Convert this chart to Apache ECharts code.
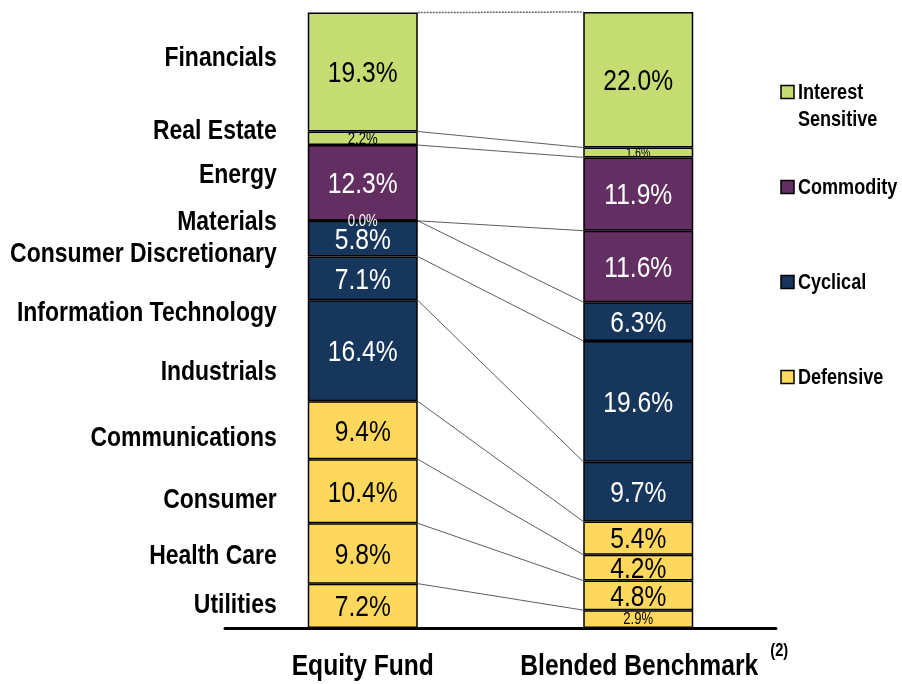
<!DOCTYPE html>
<html>
<head>
<meta charset="utf-8">
<script src="https://cdn.jsdelivr.net/npm/echarts@6/dist/echarts.min.js"></script>
<style>html,body{margin:0;padding:0;background:#fff;}#chart{width:902px;height:684px;}</style>
</head>
<body>
<div id="chart"></div>
<script>
// ---- data ----
const categories = ['Equity Fund', 'Blended Benchmark'];
const sectors = ['Utilities', 'Health Care', 'Consumer', 'Communications', 'Industrials',
  'Information Technology', 'Consumer Discretionary', 'Materials', 'Energy', 'Real Estate', 'Financials'];
const sectorGroups = ['Defensive', 'Defensive', 'Defensive', 'Defensive', 'Cyclical',
  'Cyclical', 'Cyclical', 'Commodity', 'Commodity', 'Interest Sensitive', 'Interest Sensitive'];
const fundValues = [7.2, 9.8, 10.4, 9.4, 16.4, 7.1, 5.8, 0.0, 12.3, 2.2, 19.3];
const benchmarkValues = [2.9, 4.8, 4.2, 5.4, 9.7, 19.6, 6.3, 11.6, 11.9, 1.6, 22.0];
const legendGroups = ['Interest Sensitive', 'Commodity', 'Cyclical', 'Defensive'];
const benchmarkNote = '(2)';

// ---- styles ----
const FONT = "'Liberation Sans', Arial, sans-serif";
const NARROW = 0.82; // horizontal squeeze to emulate a condensed face
const groupColors = {
  'Interest Sensitive': '#c5dc72',
  'Commodity': '#632e62',
  'Cyclical': '#17365c',
  'Defensive': '#fdd85c'
};
const groupTextColors = {
  'Interest Sensitive': '#000',
  'Commodity': '#fff',
  'Cyclical': '#fff',
  'Defensive': '#000'
};
// layout nudges (px) for the left-hand sector labels relative to the fund segment centres
const labelNudge = [-1, 3, 9, 8, 21, 35, 16, 1, -8, -7, -14];
const legendY = [92, 187, 282, 377];
const BAR_W = 110;

function labelSize(v) {
  if (v > 0 && v < 2) return 13;
  if (v < 3.5) return 16;
  return 30;
}

// cumulative tops
const fundTops = [], benchTops = [];
let cf = 0, cb = 0;
for (let i = 0; i < sectors.length; i++) {
  cf += fundValues[i]; cb += benchmarkValues[i];
  fundTops.push(+cf.toFixed(2)); benchTops.push(+cb.toFixed(2));
}

// label items: [categoryIndex, midValue, value, sectorIndex]
const labelItems = [];
sectors.forEach((s, i) => {
  labelItems.push([0, fundTops[i] - fundValues[i] / 2, fundValues[i], i]);
  labelItems.push([1, benchTops[i] - benchmarkValues[i] / 2, benchmarkValues[i], i]);
});

const chart = echarts.init(document.getElementById('chart'), null, { renderer: 'canvas' });

const barSeries = sectors.map((name, i) => {
  const g = sectorGroups[i];
  return {
    name: name,
    type: 'bar',
    stack: 'total',
    barWidth: BAR_W,
    z: 3,
    itemStyle: { color: groupColors[g], borderColor: '#000', borderWidth: 1.5 },
    label: { show: false },
    data: [fundValues[i], benchmarkValues[i]]
  };
});

const connectorSeries = {
  type: 'custom',
  silent: true,
  z: 1,
  data: fundTops.map(f => [0, f]),
  renderItem: function (params, api) {
    const i = params.dataIndex;
    const p0 = api.coord([0, fundTops[i]]);
    const p1 = api.coord([1, benchTops[i]]);
    const half = BAR_W / 2;
    const isTop = i === sectors.length - 1;
    return {
      type: 'line',
      shape: { x1: p0[0] + half, y1: p0[1], x2: p1[0] - half, y2: p1[1] },
      style: { stroke: isTop ? '#666' : '#333', lineWidth: isTop ? 1.5 : 0.8, lineDash: isTop ? [2, 1] : null }
    };
  }
};

const labelSeries = {
  type: 'custom',
  silent: true,
  z: 10,
  data: labelItems.map(d => [d[0], d[1]]),
  renderItem: function (params, api) {
    const d = labelItems[params.dataIndex];
    const p = api.coord([d[0], d[1]]);
    const v = d[2];
    const g = sectorGroups[d[3]];
    const fs = labelSize(v);
    return {
      type: 'text',
      x: p[0],
      y: p[1] + (fs > 20 ? 2 : 1),
      scaleX: NARROW,
      style: {
        text: v.toFixed(1) + '%',
        fill: groupTextColors[g],
        fontFamily: FONT,
        fontSize: fs,
        align: 'center',
        verticalAlign: 'middle'
      }
    };
  }
};

chart.setOption({
  animation: false,
  backgroundColor: '#fff',
  grid: { left: 225, right: 126, top: 12, bottom: 56 },
  xAxis: {
    type: 'category',
    data: categories,
    axisTick: { show: false },
    axisLine: { lineStyle: { color: '#000', width: 3 } },
    axisLabel: { show: false }
  },
  yAxis: {
    type: 'value', min: 0, max: 100,
    show: false, splitLine: { show: false }
  },
  series: barSeries.concat([connectorSeries, labelSeries])
});

// sector labels, category labels, legend and footnote
const graphics = [];
sectors.forEach((name, i) => {
  const mid = fundTops[i] - fundValues[i] / 2;
  const p = chart.convertToPixel({ gridIndex: 0 }, [0, mid]);
  graphics.push({
    type: 'text',
    x: p[0] - BAR_W / 2 - 31,
    y: p[1] + labelNudge[i],
    scaleX: NARROW,
    style: { text: name, fontFamily: FONT, fontSize: 28, fontWeight: 'bold', fill: '#000',
      align: 'right', verticalAlign: 'middle' }
  });
});
categories.forEach((c, k) => {
  const p = chart.convertToPixel({ gridIndex: 0 }, [k, 0]);
  graphics.push({
    type: 'text',
    x: p[0] + (k === 1 ? 1 : 0),
    y: p[1] + 39,
    scaleX: NARROW,
    style: { text: c, fontFamily: FONT, fontSize: 30, fontWeight: 'bold', fill: '#000',
      align: 'center', verticalAlign: 'middle' }
  });
});
legendGroups.forEach((g, k) => {
  graphics.push({
    type: 'rect',
    shape: { x: 781, y: legendY[k] - 6.5, width: 13, height: 13 },
    style: { fill: groupColors[g], stroke: '#000', lineWidth: 1.5 }
  });
  const lines = g === 'Interest Sensitive' ? 'Interest\nSensitive' : g;
  graphics.push({
    type: 'text',
    x: 798,
    y: legendY[k] - 13,
    scaleX: NARROW,
    style: { text: lines, fontFamily: FONT, fontSize: 22, fontWeight: 'bold', fill: '#000',
      align: 'left', verticalAlign: 'top', lineHeight: 27 }
  });
});
const bp = chart.convertToPixel({ gridIndex: 0 }, [1, 0]);
graphics.push({
  type: 'text',
  x: bp[0] + 141,
  y: bp[1] + 23,
  scaleX: NARROW,
  style: { text: benchmarkNote, fontFamily: FONT, fontSize: 18, fontWeight: 'bold', fill: '#000',
    align: 'center', verticalAlign: 'middle' }
});
chart.setOption({ graphic: graphics });
</script>
</body>
</html>
